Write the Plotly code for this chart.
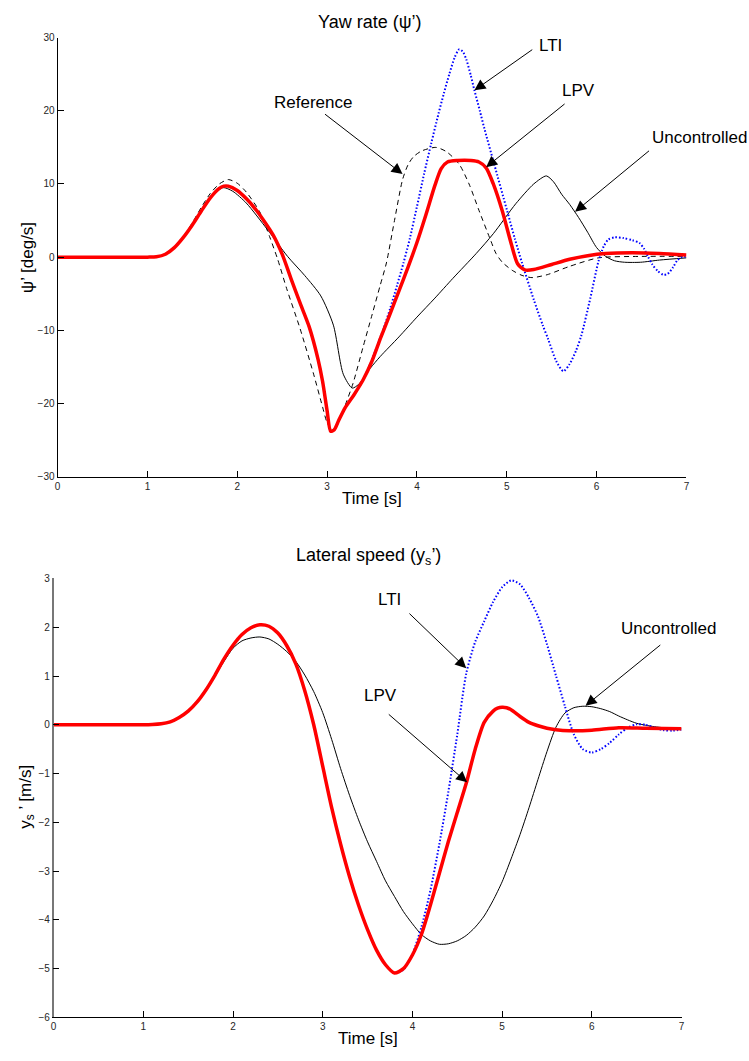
import plotly.graph_objects as go

# ---------------- Yaw rate (top) ----------------
t_yaw_lpv = [0, 1.0, 1.1, 1.2, 1.3, 1.4, 1.5, 1.6, 1.7, 1.8, 1.85, 1.9, 2.0, 2.1, 2.2, 2.3, 2.4, 2.5, 2.6,
             2.7, 2.8, 2.9, 2.95, 3.0, 3.04, 3.08, 3.13, 3.2, 3.3, 3.4, 3.5, 3.6, 3.7, 3.8, 3.9, 4.0, 4.1, 4.2,
             4.27, 4.34, 4.45, 4.6, 4.69, 4.77, 4.85, 4.95, 5.05, 5.12, 5.2, 5.3, 5.5, 5.7, 5.9, 6.1, 6.4, 6.7, 7.0]
yaw_lpv = [0, 0, 0.05, 0.4, 1.3, 2.7, 4.4, 6.3, 8.1, 9.4, 9.7, 9.7, 9.1, 8.0, 6.6, 4.9, 3.0, 0.4, -3.0,
           -6.3, -9.5, -14.0, -17.0, -21.0, -23.8, -23.6, -22.3, -20.6, -18.8, -16.8, -14.2, -10.9, -7.8, -4.6, -1.4, 2.0, 5.8, 9.8,
           12.1, 13.0, 13.2, 13.2, 13.0, 12.2, 10.0, 6.3, 1.8, -0.9, -1.75, -1.7, -1.0, -0.3, 0.2, 0.5, 0.6, 0.5, 0.3]

t_yaw_lti = [0, 1.0, 1.1, 1.2, 1.3, 1.4, 1.5, 1.6, 1.7, 1.8, 1.85, 1.9, 2.0, 2.1, 2.2, 2.3, 2.4, 2.5, 2.6,
             2.7, 2.8, 2.9, 2.95, 3.0, 3.04, 3.08, 3.13, 3.2, 3.3, 3.4, 3.5, 3.6, 3.65, 3.7, 3.78,
             3.85, 3.92, 4.0, 4.08, 4.16, 4.24, 4.3, 4.36, 4.42, 4.47, 4.51, 4.55, 4.6, 4.64, 4.7, 4.75, 4.86,
             5.0, 5.09, 5.17, 5.3, 5.4, 5.46, 5.55, 5.63, 5.7, 5.77, 5.83, 5.93, 6.02, 6.08, 6.13, 6.2, 6.3,
             6.4, 6.48, 6.53, 6.57, 6.62, 6.68, 6.74, 6.79, 6.85, 6.9, 6.95, 7.0]
yaw_lti = [0, 0, 0.05, 0.4, 1.3, 2.7, 4.4, 6.3, 8.1, 9.4, 9.7, 9.7, 9.1, 8.0, 6.6, 4.9, 3.0, 0.4, -3.0,
           -6.3, -9.5, -14.0, -17.0, -21.0, -23.8, -23.6, -22.3, -20.6, -18.8, -16.8, -14.0, -10.7, -9.0, -7.1, -3.8,
           -0.8, 2.5, 6.9, 11.4, 15.6, 19.6, 22.4, 25.0, 27.3, 28.4, 28.1, 27.0, 24.8, 22.8, 20.0, 17.6, 12.7,
           6.5, 2.5, -0.8, -5.8, -9.3, -11.2, -14.2, -15.6, -14.6, -12.8, -10.7, -5.6, -0.6, 1.5, 2.4, 2.7, 2.6,
           2.3, 1.9, 1.1, 0.1, -1.0, -1.9, -2.4, -2.3, -1.4, -0.4, 0.0, 0.1]

t_yaw_ref = [0, 1.0, 1.1, 1.2, 1.3, 1.4, 1.5, 1.6, 1.7, 1.8, 1.9, 2.0, 2.1, 2.25, 2.36, 2.45, 2.55, 2.7, 2.85,
             2.95, 3.0, 3.06, 3.12, 3.2, 3.29, 3.4, 3.5, 3.59, 3.66, 3.75, 3.84, 3.9, 3.96, 4.05, 4.21, 4.33,
             4.47, 4.58, 4.69, 4.82, 4.88, 4.95, 5.06, 5.17, 5.28, 5.45, 5.69, 6.02, 6.5, 7.0]
yaw_ref = [0, 0, 0.05, 0.4, 1.3, 2.8, 4.7, 6.8, 8.7, 10.0, 10.6, 10.1, 8.9, 6.2, 2.8, -0.3, -4.3, -9.8, -16.0,
           -20.5, -22.6, -23.6, -22.8, -20.3, -17.2, -12.3, -7.9, -3.9, -0.8, 5.0, 10.6, 12.6, 13.7, 14.5, 15.0, 14.4,
           12.7, 10.0, 6.4, 2.3, 0.5, -0.7, -1.8, -2.5, -2.8, -2.4, -1.3, -0.1, 0.1, 0.1]

t_yaw_unc = [0, 1.0, 1.1, 1.2, 1.3, 1.4, 1.5, 1.6, 1.7, 1.84, 1.95, 2.1, 2.34, 2.56, 2.75, 2.93, 3.07, 3.18,
             3.28, 3.35, 3.48, 3.59, 3.8, 4.0, 4.2, 4.4, 4.66, 4.85, 5.1, 5.3, 5.44, 5.52, 5.61, 5.7, 5.8, 5.9,
             6.0, 6.1, 6.2, 6.31, 6.49, 6.7, 7.0]
yaw_unc = [0, 0, 0.05, 0.4, 1.3, 2.7, 4.4, 6.3, 8.0, 9.5, 9.0, 7.4, 3.7, 0.1, -2.5, -5.3, -9.3, -16.0,
           -17.9, -17.4, -15.2, -13.6, -10.9, -8.2, -5.6, -2.9, 0.5, 3.2, 7.3, 10.0, 11.1, 10.3, 8.6, 7.2, 5.4, 3.4,
           1.3, 0.1, -0.5, -0.7, -0.7, -0.4, -0.1]

# ---------------- Lateral speed (bottom) ----------------
t_lat_lpv = [0, 1.0, 1.1, 1.2, 1.3, 1.4, 1.5, 1.6, 1.7, 1.8, 1.9, 2.0, 2.1, 2.2, 2.3, 2.4, 2.5, 2.6, 2.7,
             2.8, 2.9, 3.0, 3.1, 3.2, 3.3, 3.4, 3.5, 3.6, 3.7, 3.8, 3.9, 4.0, 4.1, 4.2, 4.3, 4.4, 4.5, 4.6,
             4.7, 4.8, 4.9, 4.95, 5.0, 5.05, 5.1, 5.2, 5.3, 5.4, 5.5, 5.6, 5.75, 6.0, 6.3, 6.6, 7.0]
lat_lpv = [0, 0, 0.005, 0.02, 0.06, 0.15, 0.28, 0.47, 0.72, 1.02, 1.35, 1.63, 1.85, 1.99, 2.05, 2.02, 1.88, 1.62, 1.25,
           0.7, 0.0, -0.85, -1.7, -2.45, -3.12, -3.7, -4.2, -4.62, -4.92, -5.09, -5.0, -4.72, -4.3, -3.7, -3.05, -2.4, -1.8, -1.2,
           -0.5, 0.05, 0.28, 0.34, 0.36, 0.35, 0.31, 0.17, 0.05, -0.02, -0.07, -0.1, -0.12, -0.11, -0.06, -0.07, -0.08]

t_lat_lti = [0, 1.0, 1.1, 1.2, 1.3, 1.4, 1.5, 1.6, 1.7, 1.8, 1.9, 2.0, 2.1, 2.2, 2.3, 2.4, 2.5, 2.6, 2.7,
             2.8, 2.9, 3.0, 3.1, 3.2, 3.3, 3.4, 3.5, 3.6, 3.7, 3.8, 3.9, 4.0, 4.1, 4.2, 4.3, 4.4, 4.5, 4.6,
             4.7, 4.8, 4.9, 5.0, 5.1, 5.2, 5.3, 5.4, 5.5, 5.6, 5.7, 5.8, 5.9, 6.0, 6.1, 6.2, 6.3, 6.4, 6.5,
             6.6, 6.7, 6.8, 6.9, 7.0]
lat_lti = [0, 0, 0.005, 0.02, 0.06, 0.15, 0.28, 0.47, 0.72, 1.02, 1.35, 1.63, 1.85, 1.99, 2.05, 2.02, 1.88, 1.62, 1.25,
           0.7, 0.0, -0.85, -1.7, -2.45, -3.12, -3.7, -4.2, -4.62, -4.92, -5.09, -5.02, -4.7, -4.15, -3.4, -2.45, -1.38, -0.2, 1.05,
           1.7, 2.12, 2.52, 2.82, 2.96, 2.88, 2.6, 2.22, 1.65, 1.01, 0.38, -0.2, -0.5, -0.57, -0.5, -0.37, -0.2, -0.06, 0.01,
           0.0, -0.06, -0.11, -0.12, -0.1]

t_lat_unc = [0, 1.0, 1.1, 1.2, 1.3, 1.4, 1.5, 1.6, 1.7, 1.8, 1.9, 2.0, 2.1, 2.2, 2.3, 2.4, 2.5, 2.6, 2.7,
             2.8, 2.9, 3.0, 3.1, 3.2, 3.3, 3.4, 3.5, 3.6, 3.7, 3.8, 3.9, 4.0, 4.1, 4.2, 4.3, 4.4, 4.5, 4.6,
             4.7, 4.8, 4.9, 5.0, 5.1, 5.2, 5.3, 5.4, 5.5, 5.6, 5.7, 5.8, 5.9, 6.0, 6.1, 6.2, 6.3, 6.4, 6.5,
             6.6, 6.7, 6.8, 6.9, 7.0]
lat_unc = [0, 0, 0.005, 0.02, 0.06, 0.15, 0.28, 0.47, 0.72, 1.0, 1.3, 1.57, 1.72, 1.78, 1.8, 1.76, 1.65, 1.5, 1.3,
           1.02, 0.68, 0.25, -0.3, -0.9, -1.45, -1.95, -2.4, -2.8, -3.2, -3.52, -3.83, -4.08, -4.3, -4.43, -4.5, -4.49, -4.43, -4.32,
           -4.15, -3.92, -3.6, -3.22, -2.75, -2.25, -1.7, -1.12, -0.55, -0.05, 0.24, 0.35, 0.38, 0.37, 0.33, 0.27, 0.18, 0.1, 0.03,
           -0.01, -0.04, -0.06, -0.07, -0.07]

x_ticks = [0, 1, 2, 3, 4, 5, 6, 7]
yaw_ticks = [-30, -20, -10, 0, 10, 20, 30]
lat_ticks = [-6, -5, -4, -3, -2, -1, 0, 1, 2, 3]

for a, b in [(t_yaw_lpv, yaw_lpv), (t_yaw_lti, yaw_lti), (t_yaw_ref, yaw_ref), (t_yaw_unc, yaw_unc),
             (t_lat_lpv, lat_lpv), (t_lat_lti, lat_lti), (t_lat_unc, lat_unc)]:
    assert len(a) == len(b), (len(a), len(b))

FONT = "Liberation Sans, Arial, Helvetica, sans-serif"

fig = go.Figure()

def add(t, y, xa, ya, color, width, dash):
    fig.add_trace(go.Scatter(x=t, y=y, xaxis=xa, yaxis=ya, mode="lines",
                             line=dict(color=color, width=width, dash=dash, shape="spline", smoothing=0.7),
                             showlegend=False, hoverinfo="skip"))

# top
add(t_yaw_unc, yaw_unc, "x", "y", "black", 1, "solid")
add(t_yaw_ref, yaw_ref, "x", "y", "black", 1, "5px,4px")
add(t_yaw_lti, yaw_lti, "x", "y", "#0000ff", 2, "1.5px,2px")
add(t_yaw_lpv, yaw_lpv, "x", "y", "#ff0000", 3.5, "solid")
# bottom
add(t_lat_unc, lat_unc, "x2", "y2", "black", 1, "solid")
add(t_lat_lti, lat_lti, "x2", "y2", "#0000ff", 2, "1.5px,2px")
add(t_lat_lpv, lat_lpv, "x2", "y2", "#ff0000", 3.5, "solid")

W, H = 749, 1061
axis_common = dict(showline=True, linecolor="black", linewidth=1, ticks="inside", ticklen=6,
                   tickcolor="black", tickwidth=1, showgrid=False, zeroline=False, mirror=False,
                   tickfont=dict(family=FONT, size=10, color="#262626"))

fig.update_layout(
    width=W, height=H, margin=dict(l=0, r=0, t=0, b=0),
    paper_bgcolor="white", plot_bgcolor="white",
    xaxis=dict(domain=[55 / W, 689 / W], range=[0, 7], tickvals=x_ticks, anchor="y", **axis_common),
    yaxis=dict(domain=[1 - 476 / H, 1 - 32 / H], range=[-30, 30], tickvals=yaw_ticks, anchor="x", **axis_common),
    xaxis2=dict(domain=[51 / W, 684 / W], range=[0, 7], tickvals=x_ticks, anchor="y2", **axis_common),
    yaxis2=dict(domain=[1 - 1023 / H, 1 - 579 / H], range=[-6, 3], tickvals=lat_ticks, anchor="x2", **axis_common),
)
fig.update_layout(yaxis2_linecolor="#777777", yaxis2_linewidth=1.5)

ann = []
tf = dict(family=FONT, size=18, color="black")
lf = dict(family=FONT, size=17, color="black")

# titles & axis labels (paper coords)
ann.append(dict(xref="paper", yref="paper", x=370 / W, y=1 - 16 / H, text="Yaw rate (ψ’)", showarrow=False,
                font=tf, xanchor="center", yanchor="middle"))
ann.append(dict(xref="paper", yref="paper", x=372 / W, y=1 - 498 / H, text="Time [s]", showarrow=False,
                font=lf, xanchor="center", yanchor="middle"))
ann.append(dict(xref="paper", yref="paper", x=24 / W, y=1 - 254 / H, text="ψ’ [deg/s]", showarrow=False,
                font=lf, textangle=-90, xanchor="center", yanchor="middle"))
ann.append(dict(xref="paper", yref="paper", x=368 / W, y=1 - 557 / H, text="Lateral speed (y<sub>s</sub>’)",
                showarrow=False, font=tf, xanchor="center", yanchor="middle"))
ann.append(dict(xref="paper", yref="paper", x=368 / W, y=1 - 1044 / H, text="Time [s]", showarrow=False,
                font=lf, xanchor="center", yanchor="middle"))
ann.append(dict(xref="paper", yref="paper", x=24 / W, y=1 - 800 / H, text="y<sub>s</sub> ’ [m/s]", showarrow=False,
                font=lf, textangle=-90, xanchor="center", yanchor="middle"))

# arrow annotations: (label, text pos, text xshift px, tail, head, axes)
arrows = [
    ("Reference", (2.84, 21.2), 0, (2.96, 19.7), (3.84, 11.35), "x", "y"),
    ("LTI", (5.49, 28.9), 0, (5.30, 28.5), (4.64, 22.8), "x", "y"),
    ("LPV", (5.80, 22.8), 0, (5.66, 21.1), (4.77, 12.3), "x", "y"),
    ("Uncontrolled", (6.99, 16.4), 14, (6.60, 14.7), (5.76, 6.2), "x", "y"),
    ("LTI", (3.75, 2.57), 0, (3.95, 2.31), (4.60, 1.16), "x2", "y2"),
    ("LPV", (3.64, 0.61), 0, (3.72, 0.24), (4.61, -1.18), "x2", "y2"),
    ("Uncontrolled", (6.85, 1.97), 0, (6.78, 1.66), (5.93, 0.39), "x2", "y2"),
]
for label, tp, xs, tail, head, xr, yr in arrows:
    ann.append(dict(xref=xr, yref=yr, x=tp[0], y=tp[1], xshift=xs, text=label, showarrow=False, font=lf,
                    xanchor="center", yanchor="middle"))
    ann.append(dict(xref=xr, yref=yr, axref=xr, ayref=yr, x=head[0], y=head[1], ax=tail[0], ay=tail[1],
                    text="", showarrow=True, arrowhead=2, arrowsize=2.2, arrowwidth=1, arrowcolor="black"))

fig.update_layout(annotations=ann)
fig.write_html("out.html", config={"displayModeBar": False},
               post_script="document.body.style.margin='0';document.body.style.overflow='hidden';")
